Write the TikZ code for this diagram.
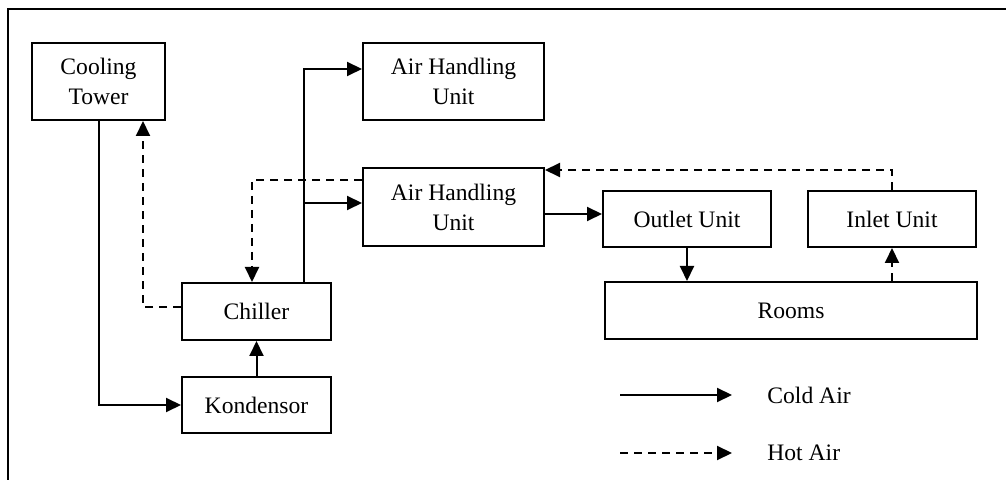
\documentclass[tikz,border=0pt]{standalone}
\usepackage{fontspec}
\setmainfont{Liberation Serif}
\usetikzlibrary{arrows.meta,calc}

\tikzset{
  unit/.style={draw, line width=1pt, inner sep=0pt, align=center,
    font=\fontsize{11.8}{15}\selectfont},
  lbl/.style={inner sep=0pt, anchor=west, font=\fontsize{11.8}{15}\selectfont},
  cold/.style={line width=1pt, -{Triangle[length=7.5pt,width=7pt]}},
  hot/.style={cold, dash pattern=on 4pt off 3pt},
  frame/.style={line width=1pt},
}

\begin{document}
\begin{tikzpicture}[x=0.5pt,y=-0.5pt]
\useasboundingbox (0,0) rectangle (1006,480);

% outer frame (top and left edges)
\draw[frame] (1006,9.5) -- (8,9.5) -- (8,480);

% units
\node[unit, minimum width=66.5pt, minimum height=38.5pt] (ct)  at (98.5,81.5) {Cooling\\Tower};
\node[unit, minimum width=90.5pt, minimum height=38.5pt] (ahu1) at (453.5,81.5) {Air Handling\\Unit};
\node[unit, minimum width=90.5pt, minimum height=39pt]   (ahu2) at (453.5,207) {Air Handling\\Unit};
\node[unit, minimum width=84pt,   minimum height=28pt]   (out) at (687,219) {Outlet Unit};
\node[unit, minimum width=84pt,   minimum height=28pt]   (inl) at (892,219) {Inlet Unit};
\node[unit, minimum width=186pt,  minimum height=28.5pt] (rooms) at (791,310.5) {Rooms};
\node[unit, minimum width=74.5pt, minimum height=28.5pt] (ch)  at (256.5,311.5) {Chiller};
\node[unit, minimum width=74.5pt, minimum height=28pt]   (kd)  at (256.5,405) {Kondensor};

% routing points
\coordinate (riser) at ($(ch.north west)+(123,0)$);
\coordinate (tee)   at (305,203);
\coordinate (ctin)  at ($(ct.south east)+(-23,0)$);
\coordinate (chin)  at ($(ch.north west)+(71,0)$);

% cold paths
\draw[cold] (ct.south) |- (kd.west);
\draw[cold] (kd.north) -- (ch.south);
\draw[cold] (riser) |- ($(ahu1.north west)+(0,27)$);
\draw[cold] (tee) -- (ahu2.west |- tee);
\draw[cold] ($(ahu2.east)+(0,7)$) -- ($(ahu2.east -| out.west)+(0,7)$);
\draw[cold] (out.south) -- (out.south |- rooms.north);

% hot return paths
\draw[hot] ($(ch.west)+(0,-4.5)$) -| (ctin);
\draw[hot] ($(ahu2.west)+(0,-27)$) -| (chin);
\draw[hot] (rooms.north -| inl.south) -- (inl.south);
\draw[hot] (inl.north) |- ($(ahu2.north east)+(0,3)$);

% legend
\coordinate (c0) at (620,395); \coordinate (c1) at (732,395);
\coordinate (h0) at (620,453); \coordinate (h1) at (732,453);
\draw[cold] (c0) -- (c1);
\draw[hot] (h0) -- (h1);
\node[lbl] (lc) at (767,395) {Cold Air};
\node[lbl] (lh) at (767,453) {Hot Air};
\end{tikzpicture}
\end{document}
